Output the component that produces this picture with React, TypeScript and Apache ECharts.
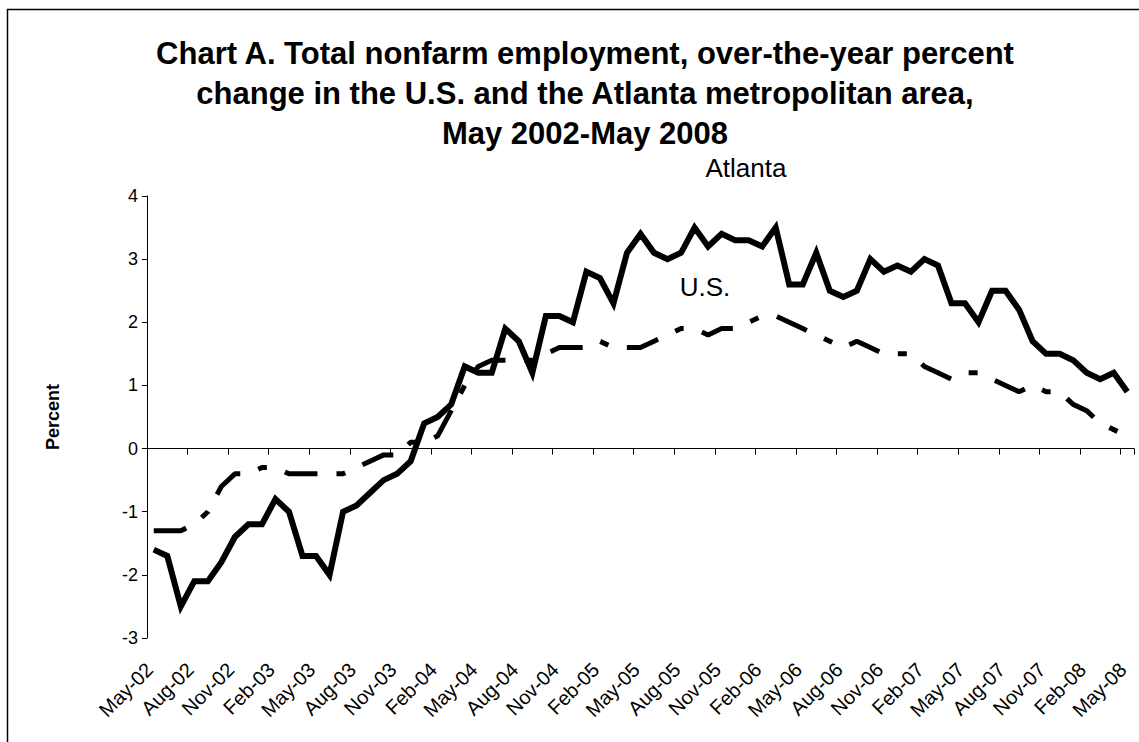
import React, { useEffect, useRef } from "react";
import * as echarts from "echarts";

const MONTHS = ["Jan", "Feb", "Mar", "Apr", "May", "Jun", "Jul", "Aug", "Sep", "Oct", "Nov", "Dec"];
// Monthly categories May-02 ... May-08
const categories: string[] = [];
for (let k = 0; k < 73; k++) {
  const m = (4 + k) % 12;
  const y = 2 + Math.floor((4 + k) / 12);
  categories.push(`${MONTHS[m]}-${String(y).padStart(2, "0")}`);
}

const atlanta = [
  -1.6, -1.7, -2.5, -2.1, -2.1, -1.8, -1.4, -1.2, -1.2, -0.8, -1.0, -1.7, -1.7, -2.0, -1.0, -0.9, -0.7, -0.5, -0.4, -0.2, 0.4, 0.5, 0.7, 1.3, 1.2,
  1.2, 1.9, 1.7, 1.2, 2.1, 2.1, 2.0, 2.8, 2.7, 2.3, 3.1, 3.4, 3.1, 3.0, 3.1, 3.5, 3.2, 3.4, 3.3, 3.3, 3.2, 3.5,
  2.6, 2.6, 3.1, 2.5, 2.4, 2.5, 3.0, 2.8, 2.9, 2.8, 3.0, 2.9, 2.3, 2.3, 2.0, 2.5, 2.5, 2.2, 1.7, 1.5, 1.5, 1.4, 1.2, 1.1, 1.2, 0.9,
];

const us = [
  -1.3, -1.3, -1.3, -1.2, -1.0, -0.6, -0.4, -0.4, -0.3, -0.3, -0.4, -0.4, -0.4, -0.4, -0.4, -0.3, -0.2, -0.1, -0.1, 0.1, 0.1, 0.2, 0.6, 1.0, 1.3,
  1.4, 1.4, 1.4, 1.4, 1.5, 1.6, 1.6, 1.6, 1.7, 1.6, 1.6, 1.6, 1.7, 1.8, 1.9, 1.9, 1.8, 1.9, 1.9, 2.0, 2.1, 2.1,
  2.0, 1.9, 1.8, 1.7, 1.6, 1.7, 1.6, 1.5, 1.5, 1.5, 1.3, 1.2, 1.1, 1.2, 1.2, 1.1, 1.0, 0.9, 1.0, 0.9, 0.9, 0.7, 0.6, 0.4, 0.3, 0.2,
];

const titleLines = [
  "Chart A. Total nonfarm employment, over-the-year percent",
  "change in the U.S. and the Atlanta metropolitan area,",
  "May 2002-May 2008",
];

const FONT = '"Liberation Sans", Arial, Helvetica, sans-serif';

export default function App() {
  const ref = useRef<HTMLDivElement>(null);

  useEffect(() => {
    if (!ref.current) return;
    const chart = echarts.init(ref.current, undefined, { renderer: "svg" });

    chart.setOption({
      animation: false,
      backgroundColor: "#fff",
      textStyle: { fontFamily: FONT, color: "#000" },
      title: {
        text: titleLines.join("\n"),
        left: 580,
        top: 28,
        textAlign: "center",
        textStyle: { fontFamily: FONT, fontSize: 31, fontWeight: "bold", lineHeight: 40, color: "#000" },
      },
      grid: {
        left: 147,
        right: 5,
        top: 196,
        bottom: 104,
        containLabel: false,
        outerBoundsMode: "none",
      },
      xAxis: {
        type: "category",
        data: categories,
        boundaryGap: true,
        axisLine: { show: true, onZero: true, lineStyle: { color: "#000", width: 1 } },
        axisTick: { show: true, interval: 2, length: 6, lineStyle: { color: "#000", width: 1 } },
        axisLabel: {
          interval: 2,
          rotate: 45,
          fontSize: 20,
          fontFamily: FONT,
          color: "#000",
          margin: 24,
          padding: [0, 6, 0, 0],
        },
        splitLine: { show: false },
      },
      yAxis: {
        type: "value",
        min: -3,
        max: 4,
        interval: 1,
        axisLine: { show: true, lineStyle: { color: "#000", width: 1 } },
        axisTick: { show: true, length: 5, lineStyle: { color: "#000" } },
        splitLine: { show: false },
        axisLabel: { fontSize: 18, fontFamily: FONT, color: "#000", margin: 9 },
        name: "Percent",
        nameLocation: "middle",
        nameGap: 85,
        nameRotate: 90,
        nameTextStyle: { fontSize: 18, fontWeight: "bold", fontFamily: FONT, color: "#000" },
      },
      series: [
        {
          name: "Atlanta",
          type: "line",
          data: atlanta,
          symbol: "none",
          z: 3,
          lineStyle: { color: "#000", width: 6, type: "solid", join: "miter" },
        },
        {
          name: "U.S.",
          type: "line",
          data: us,
          symbol: "none",
          z: 2,
          lineStyle: { color: "#000", width: 5, type: [33, 19, 9, 19], cap: "butt" },
        },
      ],
      graphic: [
        {
          type: "rect",
          silent: true,
          z: -10,
          shape: { x: 7.5, y: 9.5, width: 1300, height: 900 },
          style: { fill: "none", stroke: "#000", lineWidth: 1.5 },
        },
        {
          type: "text",
          x: 746,
          y: 168,
          style: {
            text: "Atlanta",
            fontSize: 26,
            fontFamily: FONT,
            fill: "#000",
            align: "center",
            verticalAlign: "middle",
            textAlign: "center",
            textVerticalAlign: "middle",
          },
        },
        {
          type: "text",
          x: 705,
          y: 287,
          style: {
            text: "U.S.",
            fontSize: 26,
            fontFamily: FONT,
            fill: "#000",
            align: "center",
            verticalAlign: "middle",
            textAlign: "center",
            textVerticalAlign: "middle",
          },
        },
      ],
    });
    return () => chart.dispose();
  }, []);

  return (
    <div
      ref={ref}
      style={{ position: "fixed", left: 0, top: 0, width: 1139, height: 742, background: "#fff" }}
    />
  );
}
